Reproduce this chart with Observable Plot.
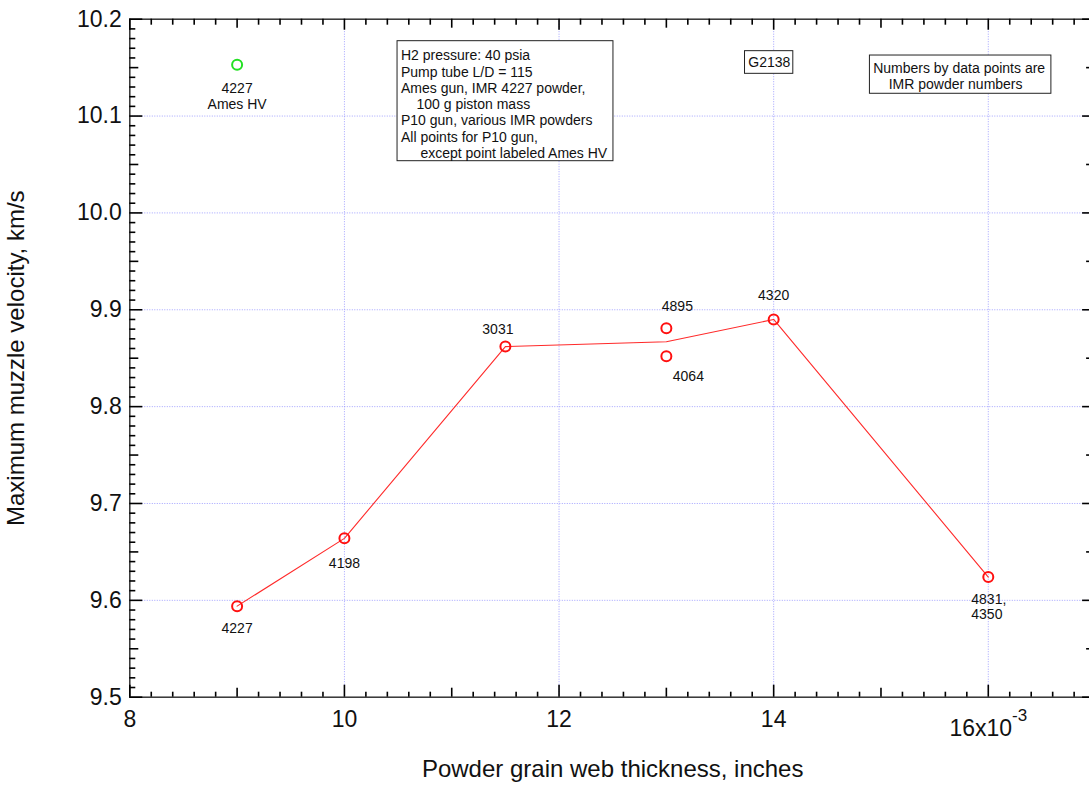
<!DOCTYPE html>
<html>
<head>
<meta charset="utf-8">
<script src="https://cdn.jsdelivr.net/npm/d3@7"></script>
<script src="https://cdn.jsdelivr.net/npm/@observablehq/plot@0.6"></script>
<style>
  html, body { margin: 0; padding: 0; background: #fff; overflow: hidden; }
  #chart { width: 1089px; height: 785px; overflow: hidden; }
</style>
</head>
<body>
<div id="chart"></div>
<script>
// ---- axis ticks and labels ----
const xTickValues = [8, 10, 12, 14, 16];
const xTickLabels = ["8", "10", "12", "14", "16x10"];
const xExponent = "-3";
const yTickValues = [9.5, 9.6, 9.7, 9.8, 9.9, 10.0, 10.1, 10.2];
const yTickLabels = ["9.5", "9.6", "9.7", "9.8", "9.9", "10.0", "10.1", "10.2"];
const xGridValues = [10, 12, 14, 16];
const yGridValues = [9.6, 9.7, 9.8, 9.9, 10.0, 10.1];
const xTitle = "Powder grain web thickness, inches";
const yTitle = "Maximum muzzle velocity, km/s";

// ---- P10 gun data (web thickness in 1e-3 inches, velocity km/s) ----
const webThickness = [9, 10, 11.5, 13, 13, 14, 16];
const velocity = [9.594, 9.664, 9.862, 9.881, 9.852, 9.890, 9.624];
const powderNumber = ["4227", "4198", "3031", "4895", "4064", "4320", "4831,\n4350"];
const labelPlacement = ["below", "below-far", "above-left", "above-right", "below-right", "above", "below-pair"];

// ---- connecting line (mean at 13) ----
const lineThickness = [9, 10, 11.5, 13, 14, 16];
const lineVelocity = [9.594, 9.664, 9.862, 9.867, 9.890, 9.624];

// ---- Ames gun point ----
const amesThickness = [9];
const amesVelocity = [10.153];
const amesLabel = ["4227\nAmes HV"];

// ---- annotation boxes (data coordinates) ----
const noteTexts = [
  "H2 pressure: 40 psia\nPump tube L/D = 115\nAmes gun, IMR 4227 powder,\n\u00a0\u00a0\u00a0\u00a0100 g piston mass\nP10 gun, various IMR powders\nAll points for P10 gun,\n\u00a0\u00a0\u00a0\u00a0\u00a0except point labeled Ames HV",
  "G2138",
  "Numbers by data points are\n\u00a0\u00a0\u00a0\u00a0IMR powder numbers"
];
const noteX = [10.527, 13.959, 14.927];
const noteY = [10.1694, 10.1553, 10.1566];
const boxX1 = [10.495, 13.733, 14.897];
const boxX2 = [12.507, 14.183, 16.588];
const boxY1 = [10.1773, 10.167, 10.1625];
const boxY2 = [10.0534, 10.1436, 10.123];

// ---- build tables ----
const points = webThickness.map((x, i) => ({x, v: velocity[i], label: powderNumber[i], place: labelPlacement[i]}));
const line = lineThickness.map((x, i) => ({x, v: lineVelocity[i]}));
const ames = amesThickness.map((x, i) => ({x, v: amesVelocity[i], label: amesLabel[i]}));
const boxes = boxX1.map((x1, i) => ({x1, x2: boxX2[i], y1: boxY1[i], y2: boxY2[i]}));

const placementStyle = {
  "below":       {dx: 0,    dy: 22.5, textAnchor: "middle", lineHeight: 1},
  "below-far":   {dx: 0,    dy: 25.5, textAnchor: "middle", lineHeight: 1},
  "above-left":  {dx: -7.5, dy: -17.5, textAnchor: "middle", lineHeight: 1},
  "above-right": {dx: 11,   dy: -21.5, textAnchor: "middle", lineHeight: 1},
  "below-right": {dx: 22,   dy: 20,   textAnchor: "middle", lineHeight: 1},
  "above":       {dx: 0,    dy: -23.5, textAnchor: "middle", lineHeight: 1},
  "below-pair":  {dx: -17,  dy: 29.3, textAnchor: "start",  lineHeight: 1.07}
};

// ---- layout ----
const W = 1089, H = 785, mL = 129.3, mR = -6.1, mT = 18.7, mB = 88.3;
const xMin = 8, xMax = 17, yMin = 9.5, yMax = 10.2;
const kx = (W - mL - mR) / (xMax - xMin);   // px per x unit
const ky = (H - mT - mB) / (yMax - yMin);   // px per y unit

// ---- tick positions ----
const round = v => Math.round(v * 1000) / 1000;
const xAll = d3.range(0, 46).map(i => round(xMin + i * 0.2));
const xMajor = xAll.filter(v => Math.abs(v / 2 - Math.round(v / 2)) < 1e-6);
const xMid = xAll.filter(v => Math.abs(v - Math.round(v)) < 1e-6 && !xMajor.includes(v));
const xMinor = xAll.filter(v => !xMajor.includes(v) && !xMid.includes(v));
const yAll = d3.range(0, 71).map(i => round(yMin + i * 0.01));
const yMajor = yAll.filter(v => Math.abs(v * 10 - Math.round(v * 10)) < 1e-6);
const yMid = yAll.filter(v => Math.abs(v * 20 - Math.round(v * 20)) < 1e-6 && !yMajor.includes(v));
const yMinor = yAll.filter(v => !yMajor.includes(v) && !yMid.includes(v));

const tickColor = "#000";
const tickWidth = 1.6;
// horizontal tick marks on a vertical axis; len in px, dir +1 = rightwards
function ticksY(values, atX, len, dir) {
  return Plot.ruleY(values, {y: d => d, x1: () => atX, x2: () => atX + dir * len / kx, stroke: tickColor, strokeWidth: tickWidth});
}
// vertical tick marks on a horizontal axis; dir +1 = upwards
function ticksX(values, atY, len, dir) {
  return Plot.ruleX(values, {x: d => d, y1: () => atY, y2: () => atY + dir * len / ky, stroke: tickColor, strokeWidth: tickWidth});
}

const font = "'Liberation Sans', Arial, Helvetica, sans-serif";
const textColor = "#111";

const labelMarks = points.map(p => {
  const s = placementStyle[p.place];
  return Plot.text([p], {x: "x", y: "v", text: "label", dx: s.dx, dy: s.dy, textAnchor: s.textAnchor, lineHeight: s.lineHeight, fontSize: 14, fill: textColor});
});

const chart = Plot.plot({
  width: W,
  height: H,
  marginLeft: mL,
  marginRight: mR,
  marginTop: mT,
  marginBottom: mB,
  style: {fontFamily: font, background: "#fff", color: "#111"},
  x: {domain: [xMin, xMax]},
  y: {domain: [yMin, yMax]},
  marks: [
    Plot.gridX(xGridValues, {stroke: "#8c8cff", strokeOpacity: 0.8, strokeDasharray: "1,1.5", strokeWidth: 1}),
    Plot.gridY(yGridValues, {stroke: "#8c8cff", strokeOpacity: 0.8, strokeDasharray: "1,1.5", strokeWidth: 1}),
    Plot.rect(boxes, {x1: "x1", x2: "x2", y1: "y1", y2: "y2", fill: "white", stroke: "#222", strokeWidth: 1}),
    Plot.text([0], {x: () => noteX[0], y: () => noteY[0], text: () => noteTexts[0], textAnchor: "start", lineAnchor: "top", lineHeight: 1.16, fontSize: 14, fill: textColor}),
    Plot.text([1], {x: () => noteX[1], y: () => noteY[1], text: () => noteTexts[1], textAnchor: "middle", fontSize: 14, fill: textColor}),
    Plot.text([2], {x: () => noteX[2], y: () => noteY[2], text: () => noteTexts[2], textAnchor: "start", lineAnchor: "top", lineHeight: 1.143, fontSize: 14, fill: textColor}),
    Plot.line(line, {x: "x", y: "v", stroke: "#ff2a2a", strokeWidth: 1.1}),
    Plot.dot(points, {x: "x", y: "v", r: 5, stroke: "#ff1010", strokeWidth: 2, fill: "none"}),
    Plot.dot(ames, {x: "x", y: "v", r: 5, stroke: "#22e022", strokeWidth: 2, fill: "none"}),
    ...labelMarks,
    Plot.text(ames, {x: "x", y: "v", text: "label", dy: 31.2, lineHeight: 1.14, fontSize: 14, fill: textColor}),
    Plot.frame({stroke: "#333", strokeWidth: 1.5, fill: "none"}),
    Plot.axisX(xTickValues, {tickSize: 0, tickPadding: 13, fontSize: 23, label: null, tickFormat: d => xTickLabels[xTickValues.indexOf(d)], fill: textColor}),
    Plot.axisY(yTickValues, {tickSize: 0, tickPadding: 8, fontSize: 23, label: null, tickFormat: d => yTickLabels[yTickValues.indexOf(d)], fill: textColor}),
    Plot.text([xTitle], {frameAnchor: "bottom", lineAnchor: "middle", textAnchor: "middle", dy: 72.3, fontSize: 24, fill: textColor}),
    Plot.text([yTitle], {frameAnchor: "left", lineAnchor: "middle", textAnchor: "middle", dx: -113, rotate: -90, fontSize: 24, fill: textColor}),
    // inward ticks on all four sides (drawn last, on top)
    ticksY(yMajor, xMin, 13, 1), ticksY(yMid, xMin, 9, 1), ticksY(yMinor, xMin, 6, 1),
    ticksY(yMajor, xMax, 13, -1), ticksY(yMid, xMax, 9, -1), ticksY(yMinor, xMax, 6, -1),
    ticksX(xMajor, yMin, 12, 1), ticksX(xMid, yMin, 9, 1), ticksX(xMinor, yMin, 5, 1),
    ticksX(xMajor, yMax, 11, -1), ticksX(xMid, yMax, 9, -1), ticksX(xMinor, yMax, 6, -1)
  ]
});

// exponent on the last x tick label (label lowered, exponent raised)
chart.querySelectorAll('[aria-label="x-axis tick label"] text').forEach(t => {
  if (t.textContent === xTickLabels[xTickLabels.length - 1]) {
    const y0 = t.getAttribute("y");
    let base = 0;
    if (y0 && y0.endsWith("em")) base = parseFloat(y0) * 23;
    else if (y0) base = parseFloat(y0) || 0;
    t.setAttribute("y", String(base + 9.5));
    const ts = document.createElementNS("http://www.w3.org/2000/svg", "tspan");
    ts.setAttribute("dy", "-15");
    ts.setAttribute("font-size", "17");
    ts.textContent = xExponent;
    t.appendChild(ts);
  }
});

document.getElementById("chart").appendChild(chart);
</script>
</body>
</html>
